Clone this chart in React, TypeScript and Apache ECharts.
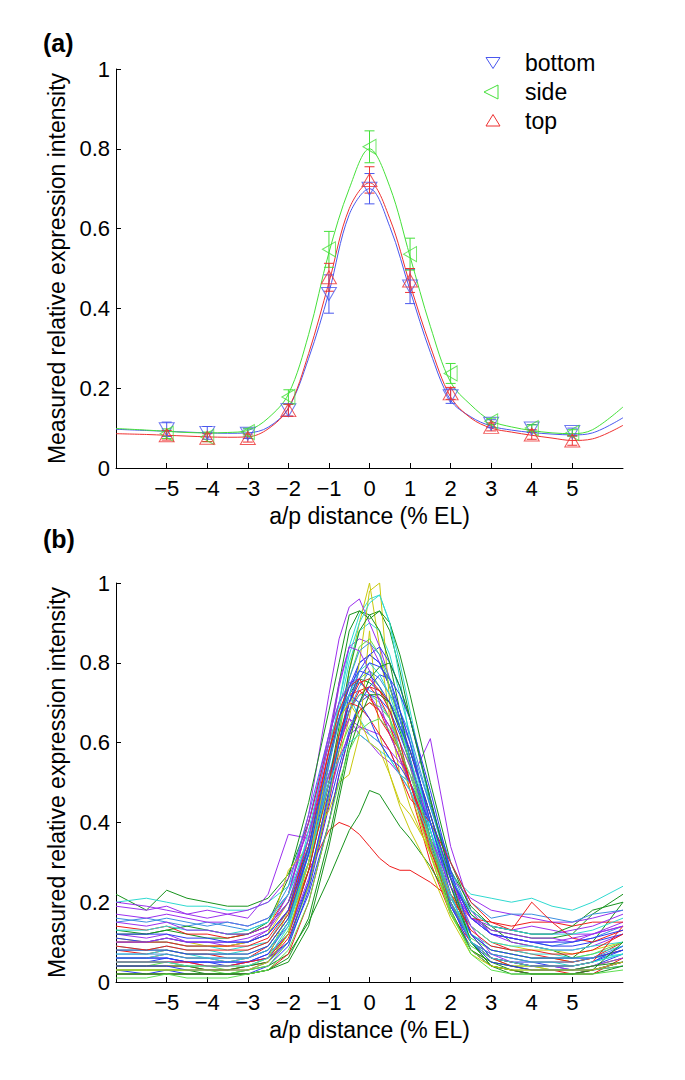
import React, { useEffect, useRef } from "react";
import * as echarts from "echarts";

// ---------- Panel (a) data ----------
const posA = [-5, -4, -3, -2, -1, 0, 1, 2, 3, 4, 5];
const bottomVals = [0.097, 0.088, 0.086, 0.145, 0.436, 0.7, 0.455, 0.18, 0.111, 0.099, 0.09];
const bottomErr = [0.018, 0.016, 0.012, 0.015, 0.048, 0.038, 0.043, 0.018, 0.01, 0.01, 0.01];
const sideVals = [0.086, 0.078, 0.09, 0.178, 0.548, 0.805, 0.536, 0.237, 0.117, 0.1, 0.088];
const sideErr = [0.012, 0.012, 0.01, 0.018, 0.045, 0.04, 0.04, 0.025, 0.008, 0.008, 0.008];
const topVals = [0.082, 0.076, 0.075, 0.145, 0.478, 0.722, 0.47, 0.187, 0.103, 0.084, 0.069];
const topErr = [0.012, 0.01, 0.01, 0.015, 0.035, 0.033, 0.03, 0.015, 0.01, 0.012, 0.012];

const fitX = [-6.25, -5.5, -5, -4.5, -4, -3.5, -3, -2.5, -2, -1.5, -1, -0.5, 0, 0.5, 1, 1.5, 2, 2.5, 3, 3.5, 4, 4.5, 5, 5.5, 6.25];
const bottomFit = [0.097, 0.094, 0.092, 0.09, 0.088, 0.087, 0.088, 0.102, 0.15, 0.275, 0.44, 0.635, 0.7, 0.605, 0.445, 0.29, 0.17, 0.128, 0.105, 0.095, 0.089, 0.085, 0.083, 0.088, 0.126];
const sideFit = [0.099, 0.095, 0.092, 0.089, 0.088, 0.089, 0.094, 0.125, 0.185, 0.335, 0.54, 0.7, 0.8, 0.705, 0.53, 0.355, 0.215, 0.158, 0.118, 0.103, 0.094, 0.088, 0.086, 0.096, 0.153];
const topFit = [0.086, 0.084, 0.082, 0.08, 0.078, 0.077, 0.078, 0.098, 0.15, 0.287, 0.465, 0.65, 0.715, 0.625, 0.46, 0.305, 0.178, 0.125, 0.1, 0.09, 0.082, 0.075, 0.069, 0.073, 0.107];

const xTicks = [-5, -4, -3, -2, -1, 0, 1, 2, 3, 4, 5];

// ---------- Panel (b) data: individual embryo profiles ----------
const profX = [-6.25, -5.5, -5, -4.5, -4, -3.5, -3, -2.5, -2, -1.5, -1, -0.75, -0.5, -0.25, 0, 0.25, 0.5, 0.75, 1, 1.5, 2, 2.5, 3, 3.5, 4, 4.5, 5, 5.5, 6.25];
const q01 = [.05,.05,.06,.05,.05,.04,.05,.07,.15,.33,.55,.66,.74,.8,.82,.8,.74,.66,.56,.35,.19,.1,.06,.05,.05,.04,.03,.04,.07];
const q02 = [.22,.18,.23,.21,.2,.19,.19,.21,.27,.4,.6,.75,.88,.93,.92,.93,.88,.78,.66,.45,.28,.19,.14,.1,.09,.08,.06,.1,.2];
const q03 = [.08,.07,.08,.07,.07,.06,.06,.09,.16,.33,.52,.6,.68,.72,.74,.71,.66,.58,.48,.3,.17,.1,.07,.06,.05,.05,.05,.06,.1];
const q04 = [.2,.21,.2,.19,.19,.18,.18,.2,.24,.36,.56,.7,.84,.92,.96,.97,.9,.8,.68,.44,.27,.22,.21,.2,.21,.19,.18,.2,.24];
const q05 = [.19,.18,.19,.17,.16,.17,.16,.22,.37,.36,.62,.75,.84,.86,.85,.8,.74,.66,.58,.4,.26,.18,.14,.13,.14,.13,.12,.12,.15];
const q06 = [.1,.1,.11,.1,.09,.09,.1,.12,.2,.34,.5,.62,.78,.9,1.0,.84,.66,.52,.44,.32,.2,.12,.08,.07,.06,.06,.05,.06,.08];
const q07 = [.15,.16,.15,.14,.15,.14,.13,.15,.24,.42,.62,.7,.74,.75,.73,.72,.7,.66,.6,.44,.28,.17,.12,.11,.1,.09,.1,.11,.14];
const q08 = [.04,.04,.05,.04,.04,.03,.04,.06,.13,.28,.5,.6,.7,.76,.78,.74,.68,.6,.5,.32,.17,.09,.06,.04,.04,.03,.03,.04,.06];
const q09 = [.06,.06,.07,.06,.06,.05,.06,.08,.15,.28,.38,.4,.39,.37,.34,.31,.29,.28,.28,.25,.21,.14,.1,.08,.07,.06,.05,.06,.08];
const q10 = [.03,.03,.03,.03,.02,.02,.03,.04,.07,.15,.26,.32,.38,.42,.48,.47,.43,.39,.36,.29,.2,.1,.05,.03,.02,.02,.02,.03,.05];
const q11 = [.12,.11,.12,.1,.1,.09,.1,.13,.2,.33,.52,.6,.66,.62,.6,.57,.55,.52,.5,.61,.34,.18,.12,.1,.09,.08,.08,.09,.12];
const q12 = [.09,.08,.09,.08,.08,.07,.08,.1,.17,.33,.56,.68,.8,.88,.9,.88,.82,.72,.62,.38,.21,.12,.09,.08,.07,.07,.06,.07,.09];
const q13 = [.06,.06,.06,.05,.05,.05,.05,.07,.12,.25,.47,.6,.72,.8,.82,.8,.74,.66,.56,.36,.19,.1,.06,.05,.04,.04,.04,.05,.08];
const q14 = [.12,.12,.13,.12,.11,.11,.12,.14,.2,.34,.55,.66,.72,.76,.75,.73,.7,.63,.55,.4,.26,.17,.13,.12,.11,.11,.12,.17,.22];
const q15 = [.14,.13,.14,.12,.12,.11,.12,.14,.22,.4,.6,.68,.72,.73,.71,.68,.64,.58,.5,.36,.22,.16,.15,.14,.15,.15,.14,.15,.15];
const q16 = [.17,.16,.17,.16,.15,.15,.14,.16,.22,.42,.72,.86,.94,.96,.9,.84,.76,.68,.6,.4,.24,.16,.14,.13,.12,.12,.13,.14,.17];
const q17 = [.05,.05,.05,.04,.04,.04,.04,.06,.18,.3,.48,.56,.66,.8,.98,1.0,.7,.56,.48,.32,.17,.08,.05,.04,.04,.03,.03,.04,.06];
const q18 = [.07,.07,.08,.07,.06,.06,.06,.08,.15,.3,.52,.62,.68,.72,.72,.7,.66,.58,.5,.34,.2,.12,.08,.07,.06,.06,.06,.06,.07];
const q19 = [.03,.02,.03,.02,.02,.02,.02,.04,.09,.23,.44,.54,.63,.7,.72,.71,.68,.62,.55,.38,.2,.08,.04,.03,.02,.02,.02,.03,.04];
const q20 = [.13,.12,.13,.14,.13,.12,.12,.15,.26,.45,.68,.8,.92,.93,.91,.93,.9,.82,.72,.5,.3,.18,.14,.13,.12,.12,.14,.18,.2];
const q21 = [.04,.04,.04,.04,.03,.03,.04,.05,.11,.24,.45,.58,.68,.73,.74,.73,.7,.64,.58,.42,.26,.12,.06,.04,.03,.03,.02,.03,.05];
const q22 = [.06,.06,.07,.06,.06,.05,.06,.08,.15,.32,.58,.7,.82,.9,.95,.97,.9,.76,.6,.38,.2,.1,.07,.06,.05,.05,.04,.05,.07];
const q23 = [.2,.19,.18,.17,.18,.17,.18,.2,.26,.38,.52,.6,.66,.64,.62,.6,.58,.52,.48,.36,.26,.21,.18,.17,.16,.15,.15,.16,.18];
const q24 = [.11,.1,.1,.09,.09,.09,.1,.12,.28,.34,.43,.5,.52,.62,.88,.62,.52,.45,.42,.33,.22,.14,.1,.09,.08,.08,.07,.08,.1];
const q25 = [.11,.1,.11,.1,.1,.1,.1,.12,.18,.32,.5,.6,.7,.78,.82,.84,.8,.74,.66,.46,.27,.16,.12,.11,.1,.09,.09,.1,.12];
const q26 = [.08,.08,.08,.07,.07,.07,.07,.09,.16,.3,.5,.58,.64,.68,.7,.69,.66,.6,.54,.36,.2,.11,.08,.07,.06,.06,.06,.07,.1];
const q27 = [.02,.02,.02,.02,.02,.02,.02,.03,.07,.2,.4,.52,.62,.68,.7,.68,.62,.56,.5,.34,.18,.08,.04,.03,.02,.02,.02,.02,.06];
const q28 = [.1,.1,.1,.09,.09,.08,.09,.1,.18,.38,.6,.68,.72,.66,.62,.6,.56,.52,.5,.38,.24,.14,.1,.09,.09,.08,.08,.09,.1];
const q29 = [.05,.05,.05,.05,.04,.04,.05,.06,.12,.26,.46,.56,.62,.64,.63,.62,.58,.55,.52,.4,.26,.14,.07,.05,.04,.04,.03,.04,.06];
const q30 = [.04,.04,.04,.04,.03,.03,.04,.05,.12,.28,.5,.64,.78,.88,.92,.88,.8,.68,.56,.36,.18,.08,.05,.04,.03,.03,.03,.04,.05];
const q31 = [.16,.15,.16,.15,.14,.15,.14,.16,.22,.34,.5,.6,.68,.74,.78,.76,.72,.68,.62,.44,.3,.2,.16,.17,.17,.16,.15,.17,.18];
const q32 = [.06,.06,.06,.05,.05,.05,.05,.06,.1,.22,.4,.52,.62,.7,.74,.77,.76,.72,.66,.48,.28,.12,.06,.05,.04,.04,.04,.05,.09];
const q33 = [.1,.1,.1,.09,.09,.09,.09,.11,.18,.36,.58,.66,.7,.69,.66,.62,.58,.52,.46,.4,.3,.2,.15,.13,.2,.15,.11,.1,.13];
const q34 = [.03,.03,.03,.03,.03,.02,.03,.04,.1,.24,.46,.62,.76,.84,.86,.82,.74,.64,.54,.34,.17,.08,.04,.03,.03,.03,.03,.03,.04];
const q35 = [.1,.1,.11,.1,.1,.1,.11,.13,.22,.4,.62,.7,.75,.76,.72,.68,.64,.6,.54,.4,.26,.16,.12,.11,.1,.1,.11,.12,.14];
const q36 = [.08,.08,.08,.07,.07,.07,.07,.09,.16,.32,.55,.66,.72,.7,.66,.6,.56,.54,.5,.4,.24,.12,.08,.07,.06,.06,.06,.06,.08];
const q37 = [.02,.02,.02,.02,.02,.02,.02,.03,.05,.14,.34,.46,.58,.66,.72,.72,.7,.64,.58,.42,.24,.1,.04,.02,.02,.02,.02,.02,.04];
const q38 = [.05,.05,.05,.05,.04,.04,.05,.06,.12,.28,.5,.62,.7,.75,.76,.73,.68,.6,.5,.33,.2,.1,.06,.05,.04,.04,.04,.05,.14];
const q39 = [.13,.13,.14,.13,.13,.12,.13,.15,.22,.36,.55,.65,.72,.78,.8,.77,.72,.64,.56,.4,.26,.18,.14,.13,.12,.12,.12,.13,.16];
const q40 = [.04,.04,.04,.03,.03,.03,.03,.05,.1,.25,.48,.6,.7,.76,.8,.79,.76,.68,.6,.4,.22,.1,.05,.04,.03,.03,.03,.03,.05];
const q41 = [.15,.14,.15,.13,.13,.12,.12,.14,.2,.36,.6,.74,.84,.83,.78,.7,.62,.56,.5,.36,.24,.16,.13,.12,.11,.11,.1,.12,.14];
const q42 = [.07,.07,.07,.06,.06,.06,.06,.08,.14,.3,.54,.66,.76,.83,.85,.82,.76,.66,.56,.36,.2,.1,.07,.06,.05,.05,.05,.06,.09];
const q43 = [.02,.02,.02,.02,.02,.02,.02,.03,.06,.16,.36,.48,.6,.7,.76,.79,.8,.74,.66,.46,.26,.1,.04,.03,.02,.02,.02,.03,.1];
const q44 = [.09,.08,.09,.08,.08,.08,.08,.1,.17,.34,.58,.68,.74,.76,.72,.66,.62,.58,.5,.36,.22,.13,.09,.08,.08,.07,.07,.08,.12];
const q45 = [.05,.05,.05,.04,.04,.04,.04,.06,.14,.3,.5,.56,.6,.62,.6,.58,.56,.52,.48,.36,.22,.1,.06,.05,.04,.04,.04,.05,.07];
const q46 = [.03,.03,.03,.03,.03,.03,.03,.05,.12,.3,.56,.66,.7,.66,.6,.58,.52,.44,.38,.28,.16,.07,.04,.03,.03,.03,.03,.03,.05];
const q47 = [.12,.12,.12,.11,.11,.1,.1,.12,.18,.34,.56,.66,.74,.78,.77,.74,.7,.64,.58,.42,.26,.16,.12,.11,.1,.1,.1,.11,.13];
const q48 = [.01,.01,.02,.01,.01,.01,.02,.03,.08,.2,.4,.5,.58,.63,.65,.66,.63,.58,.52,.36,.18,.07,.03,.02,.02,.02,.02,.02,.03];
const profiles = [q01, q02, q03, q04, q05, q06, q07, q08, q09, q10, q11, q12, q13, q14, q15, q16, q17, q18, q19, q20, q21, q22, q23, q24,
  q25, q26, q27, q28, q29, q30, q31, q32, q33, q34, q35, q36, q37, q38, q39, q40, q41, q42, q43, q44, q45, q46, q47, q48];
// colour key per profile: B blue, G green, R red, C cyan, P purple, Y yellow, M mid-blue, L light green
const profileColorKeys = [
  "B", "G", "R", "C", "P", "Y", "M", "L", "R", "G", "P", "C", "B", "G", "R", "P", "Y", "C", "B", "G", "R", "C", "P", "Y",
  "B", "L", "R", "C", "P", "G", "M", "B", "R", "L", "P", "B", "G", "R", "C", "B", "P", "M", "G", "R", "C", "Y", "B", "L",
];
const colorByKey: Record<string, string> = {
  B: "#2a3df2", G: "#17931c", R: "#ee1c1c", C: "#2fd9d0", P: "#9b30ee", Y: "#c9c90e", M: "#3a8ee0", L: "#5ddf4f",
};

const FONT = "'Liberation Sans', Arial, Helvetica, sans-serif";
const BLUE = "#4a58ee";
const GREEN = "#45e03a";
const RED = "#ee3030";

const GRID_LEFT = 116;
const GRID_W = 507;
const GRID_H = 399;
const TOP_A = 69;
const TOP_B = 583;

function fmtTick(v: number) {
  return v < 0 ? "\u2212" + Math.abs(v) : String(v);
}

function xAxisFor(gridIndex: number) {
  return {
    type: "value",
    gridIndex,
    min: -6.25,
    max: 6.25,
    name: "a/p distance (% EL)",
    nameLocation: "middle",
    nameGap: 36,
    nameTextStyle: { fontSize: 23, fontFamily: FONT, color: "#000" },
    axisLine: { show: true, onZero: false, lineStyle: { color: "#000", width: 1 } },
    axisTick: { show: true, inside: true, length: 5, customValues: xTicks, lineStyle: { color: "#000" } },
    axisLabel: { customValues: xTicks, formatter: fmtTick, fontSize: 22, fontFamily: FONT, color: "#000", margin: 9 },
    splitLine: { show: false },
  };
}

function yAxisFor(gridIndex: number) {
  return {
    type: "value",
    gridIndex,
    min: 0,
    max: 1,
    interval: 0.2,
    name: "Measured relative expression intensity",
    nameLocation: "middle",
    nameGap: 46,
    nameTextStyle: { fontSize: 23, fontFamily: FONT, color: "#000" },
    axisLine: { show: true, onZero: false, lineStyle: { color: "#000", width: 1 } },
    axisTick: { show: true, inside: true, length: 5, lineStyle: { color: "#000" } },
    axisLabel: { fontSize: 22, fontFamily: FONT, color: "#000", margin: 6 },
    splitLine: { show: false },
  };
}

function errorSeries(vals: number[], errs: number[], color: string) {
  return {
    type: "custom",
    xAxisIndex: 0,
    yAxisIndex: 0,
    silent: true,
    z: 3,
    data: posA.map((x, i) => [x, vals[i], errs[i]]),
    renderItem: (params: any, api: any) => {
      const x = api.value(0);
      const y = api.value(1);
      const e = api.value(2);
      const lo = api.coord([x, y - e]);
      const hi = api.coord([x, y + e]);
      const w = 5;
      const st = { stroke: color, lineWidth: 1 };
      return {
        type: "group",
        children: [
          { type: "line", shape: { x1: lo[0], y1: lo[1], x2: hi[0], y2: hi[1] }, style: st },
          { type: "line", shape: { x1: lo[0] - w, y1: lo[1], x2: lo[0] + w, y2: lo[1] }, style: st },
          { type: "line", shape: { x1: hi[0] - w, y1: hi[1], x2: hi[0] + w, y2: hi[1] }, style: st },
        ],
      };
    },
  };
}

function markerSeries(name: string, vals: number[], color: string, rotate: number) {
  return {
    name,
    type: "scatter",
    xAxisIndex: 0,
    yAxisIndex: 0,
    symbol: "triangle",
    symbolSize: [15, 13],
    symbolRotate: rotate,
    z: 4,
    itemStyle: { color: "transparent", borderColor: color, borderWidth: 1 },
    data: posA.map((x, i) => [x, vals[i]]),
  };
}

function fitSeries(vals: number[], color: string) {
  return {
    type: "line",
    xAxisIndex: 0,
    yAxisIndex: 0,
    smooth: 0.35,
    symbol: "none",
    z: 2,
    lineStyle: { color, width: 1 },
    data: fitX.map((x, i) => [x, vals[i]]),
  };
}

function legendGraphic() {
  const items: any[] = [];
  const rows = [
    { label: "bottom", color: BLUE, cy: 63, pts: [[486, 57.5], [500, 57.5], [493, 68.5]] },
    { label: "side", color: GREEN, cy: 92, pts: [[498, 85], [498, 99], [484, 92]] },
    { label: "top", color: RED, cy: 121, pts: [[493, 114.5], [500, 126], [486, 126]] },
  ];
  rows.forEach((r) => {
    items.push({ type: "polygon", shape: { points: r.pts }, style: { fill: "none", stroke: r.color, lineWidth: 1 } });
    items.push({
      type: "text",
      x: 525,
      y: r.cy,
      style: { text: r.label, fontSize: 23, fontFamily: FONT, fill: "#000", verticalAlign: "middle" },
    });
  });
  return items;
}

export default function App() {
  const ref = useRef<HTMLDivElement>(null);
  useEffect(() => {
    if (!ref.current) return;
    const chart = echarts.init(ref.current, undefined, { renderer: "svg" });
    const profSeries = profiles.map((p, i) => ({
      type: "line",
      xAxisIndex: 1,
      yAxisIndex: 1,
      symbol: "none",
      silent: true,
      lineStyle: { color: colorByKey[profileColorKeys[i]], width: 1 },
      data: profX.map((x, j) => [x, p[j]]),
    }));
    chart.setOption({
      animation: false,
      backgroundColor: "#fff",
      title: [
        { text: "(a)", left: 43, top: 30, padding: 0, textStyle: { fontSize: 25, fontWeight: "bold", fontFamily: FONT, color: "#000" } },
        { text: "(b)", left: 43, top: 526, padding: 0, textStyle: { fontSize: 25, fontWeight: "bold", fontFamily: FONT, color: "#000" } },
      ],
      grid: [
        { left: GRID_LEFT, top: TOP_A, width: GRID_W, height: GRID_H },
        { left: GRID_LEFT, top: TOP_B, width: GRID_W, height: GRID_H },
      ],
      xAxis: [xAxisFor(0), xAxisFor(1)],
      yAxis: [yAxisFor(0), yAxisFor(1)],
      graphic: legendGraphic(),
      series: [
        fitSeries(bottomFit, BLUE),
        fitSeries(sideFit, GREEN),
        fitSeries(topFit, RED),
        errorSeries(bottomVals, bottomErr, BLUE),
        errorSeries(sideVals, sideErr, GREEN),
        errorSeries(topVals, topErr, RED),
        markerSeries("bottom", bottomVals, BLUE, 180),
        markerSeries("side", sideVals, GREEN, 90),
        markerSeries("top", topVals, RED, 0),
        ...profSeries,
      ],
    });
    return () => chart.dispose();
  }, []);
  return <div ref={ref} style={{ position: "absolute", left: 0, top: 0, width: 685, height: 1080 }} />;
}
